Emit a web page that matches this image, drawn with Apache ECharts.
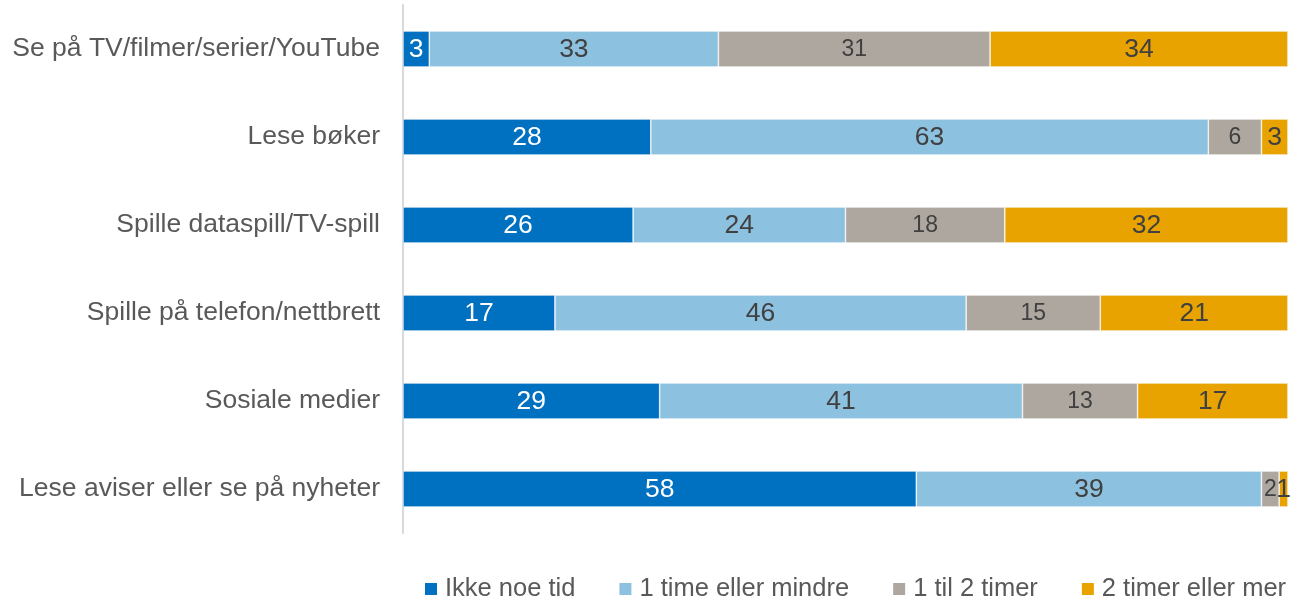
<!DOCTYPE html>
<html><head><meta charset="utf-8">
<script src="https://cdn.jsdelivr.net/npm/echarts@6/dist/echarts.min.js"></script>
<style>html,body{margin:0;padding:0;background:#fff}#c{width:1305px;height:599px}</style>
</head><body><div id="c"></div>
<script>
const categories = ["Se på TV/filmer/serier/YouTube","Lese bøker","Spille dataspill/TV-spill","Spille på telefon/nettbrett","Sosiale medier","Lese aviser eller se på nyheter"];
const seriesNames = ["Ikke noe tid","1 time eller mindre","1 til 2 timer","2 timer eller mer"];
const ikkeNoeTid = [3,28,26,17,29,58];
const enTimeEllerMindre = [33,63,24,46,41,39];
const enTilToTimer = [31,6,18,15,13,2];
const toTimerEllerMer = [34,3,32,21,17,1];
const colors = ["#0070C0","#8CC2DF","#AEA79F","#E8A300"];
const labelColors = ["#ffffff","#404040","#404040","#404040"];
const labelSizes = [26.5,26.5,23,26.5];
const FONT = 'Liberation Sans, Arial, sans-serif';

const raw = [ikkeNoeTid, enTimeEllerMindre, enTilToTimer, toTimerEllerMer];
const totals = categories.map((_, i) => raw.reduce((s, a) => s + a[i], 0));

const series = raw.map((arr, si) => ({
  name: seriesNames[si],
  type: 'bar',
  stack: 'total',
  barWidth: 36,
  itemStyle: {color: colors[si], borderColor: '#ffffff', borderWidth: 0.6},
  label: {
    show: true, position: 'inside', offset: [0, 1],
    color: labelColors[si], fontSize: labelSizes[si], fontFamily: FONT,
    formatter: p => String(arr[p.dataIndex])
  },
  emphasis: {disabled: true},
  data: arr.map((v, i) => v / totals[i] * 100)
}));

const chart = echarts.init(document.getElementById('c'), null, {renderer: 'canvas'});
chart.setOption({
  animation: false,
  color: colors,
  grid: {left: 403, right: 17, top: 5, height: 528, containLabel: false},
  xAxis: {type: 'value', min: 0, max: 100, show: false},
  yAxis: {
    type: 'category', inverse: true, data: categories,
    axisLine: {show: true, lineStyle: {color: '#D9D9D9', width: 2}},
    axisTick: {show: false},
    axisLabel: {color: '#595959', fontSize: 26.5, fontFamily: FONT, margin: 23}
  },
  legend: {
    top: 571, left: 418,
    itemWidth: 14, itemHeight: 14, itemGap: 42,
    icon: 'rect',
    textStyle: {color: '#595959', fontSize: 25.5, fontFamily: FONT, padding: [0,0,0,2]},
    data: seriesNames
  },
  series: series
});
</script></body></html>
